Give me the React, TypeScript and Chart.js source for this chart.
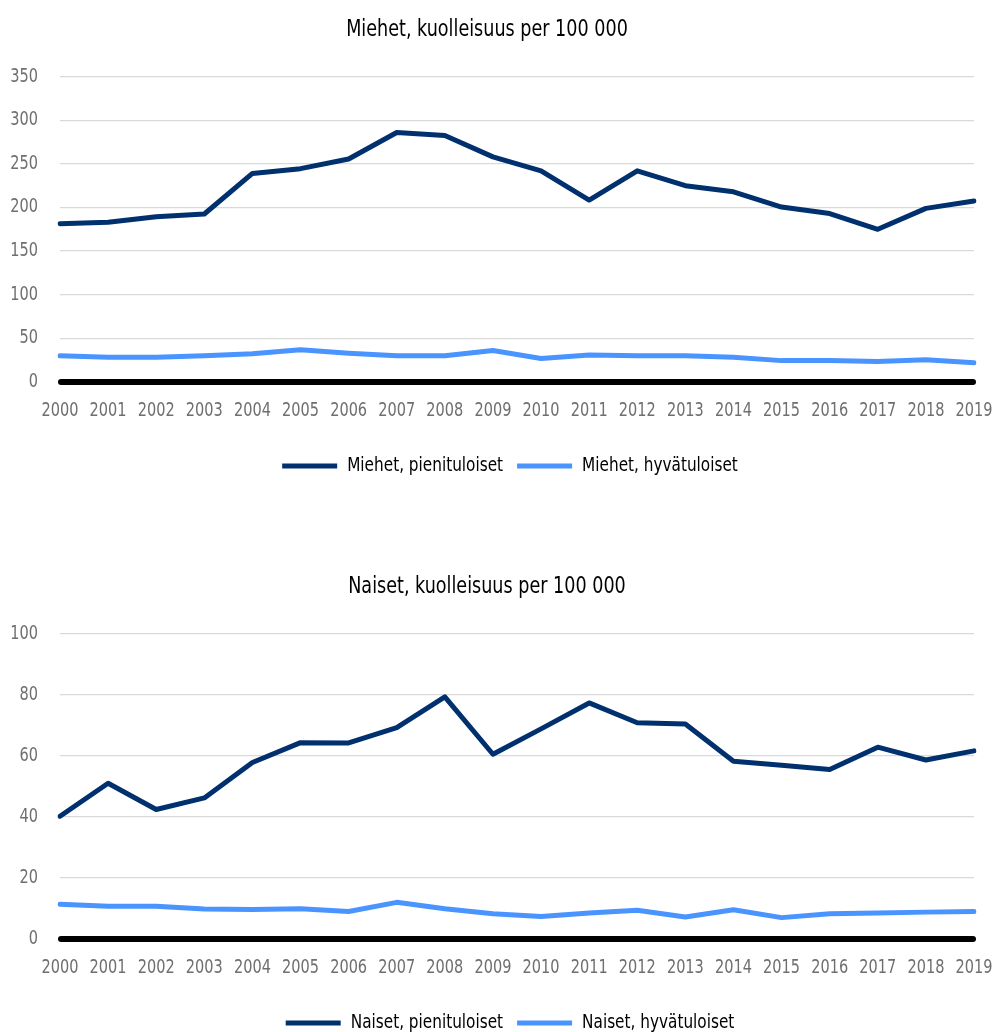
import { useEffect, useRef } from "react";
import { Chart, registerables } from "chart.js";

Chart.register(...registerables);

// Years on the horizontal axis
const years = [
  "2000", "2001", "2002", "2003", "2004", "2005", "2006", "2007", "2008", "2009",
  "2010", "2011", "2012", "2013", "2014", "2015", "2016", "2017", "2018", "2019",
];

// Men, deaths per 100 000
const menLowIncome = [181.5, 183, 189.5, 192.5, 239, 244.5, 255.5, 286, 282.5, 258, 242, 208.5, 242, 225, 218, 200.5, 193, 175, 199, 207.5];
const menHighIncome = [30, 28.5, 28.5, 30, 32.5, 37, 33, 30, 30, 36, 27, 31, 30, 30, 28.5, 24.5, 24.5, 23.5, 25.5, 22];

// Women, deaths per 100 000
const womenLowIncome = [40.2, 51, 42.4, 46.2, 57.8, 64.3, 64.2, 69.2, 79.3, 60.5, 68.8, 77.3, 70.8, 70.4, 58.2, 56.9, 55.5, 62.8, 58.6, 61.6];
const womenHighIncome = [11.4, 10.7, 10.7, 9.8, 9.7, 9.9, 9.0, 12.0, 9.9, 8.3, 7.4, 8.5, 9.4, 7.2, 9.6, 7.0, 8.3, 8.5, 8.8, 9.0];

const FONT = "'DejaVu Sans Condensed', 'DejaVu Sans', sans-serif";
const DARK = "#00306e";
const LIGHT = "#4a94ff";
const TEXT_SQUEEZE = 0.85;

// Draw all canvas text horizontally condensed (and measure it the same way,
// so Chart.js lays out labels and legend with the narrower widths).
function condenseText(ctx: CanvasRenderingContext2D, k: number) {
  const anyCtx = ctx as any;
  if (anyCtx.__condensed) return;
  anyCtx.__condensed = true;
  const fill = ctx.fillText.bind(ctx);
  const measure = ctx.measureText.bind(ctx);
  ctx.fillText = (text: string, x: number, y: number, maxWidth?: number) => {
    ctx.save();
    ctx.translate(x, y);
    ctx.scale(k, 1);
    if (maxWidth !== undefined && maxWidth !== null) fill(text, 0, 0, maxWidth / k);
    else fill(text, 0, 0);
    ctx.restore();
  };
  ctx.measureText = (text: string) => {
    const m = measure(text);
    return {
      width: m.width * k,
      actualBoundingBoxLeft: m.actualBoundingBoxLeft * k,
      actualBoundingBoxRight: m.actualBoundingBoxRight * k,
      actualBoundingBoxAscent: m.actualBoundingBoxAscent,
      actualBoundingBoxDescent: m.actualBoundingBoxDescent,
      fontBoundingBoxAscent: m.fontBoundingBoxAscent,
      fontBoundingBoxDescent: m.fontBoundingBoxDescent,
    } as TextMetrics;
  };
}

// Thick black baseline at zero, with rounded ends
const zeroLinePlugin = {
  id: "zeroLine",
  beforeDatasetsDraw(chart: any) {
    const { ctx, chartArea, scales } = chart;
    const y = scales.y.getPixelForValue(0);
    ctx.save();
    ctx.strokeStyle = "#000";
    ctx.lineWidth = 6;
    ctx.lineCap = "round";
    ctx.beginPath();
    ctx.moveTo(chartArea.left + 1, y);
    ctx.lineTo(chartArea.right - 1, y);
    ctx.stroke();
    ctx.restore();
  },
};

// Nudge the legend row slightly left of the plot centre
const legendShiftPlugin = {
  id: "legendShift",
  afterLayout(chart: any) {
    const legend = chart.legend;
    if (legend) {
      legend.left -= 7;
      legend.right -= 7;
    }
  },
};

type Props = {
  title: string;
  lowLabel: string;
  low: number[];
  highLabel: string;
  high: number[];
  max: number;
  step: number;
};

function MortalityChart({ title, lowLabel, low, highLabel, high, max, step }: Props) {
  const ref = useRef<HTMLCanvasElement>(null);

  useEffect(() => {
    if (!ref.current) return;
    const ctx = ref.current.getContext("2d");
    if (!ctx) return;
    condenseText(ctx, TEXT_SQUEEZE);
    const line = {
      borderWidth: 5,
      pointRadius: 0,
      pointHoverRadius: 0,
      tension: 0,
      borderCapStyle: "round" as const,
      borderJoinStyle: "round" as const,
    };
    const chart = new Chart(ctx, {
      type: "line",
      data: {
        labels: years,
        datasets: [
          { label: lowLabel, data: low, borderColor: DARK, backgroundColor: DARK, ...line },
          { label: highLabel, data: high, borderColor: LIGHT, backgroundColor: LIGHT, ...line },
        ],
      },
      options: {
        responsive: false,
        animation: false,
        devicePixelRatio: 1,
        layout: { padding: { left: 0, right: 20, top: 0, bottom: 71 } },
        plugins: {
          title: {
            display: true,
            text: title,
            color: "#000",
            font: { family: FONT, size: 23, weight: "normal" },
            padding: { top: 16, bottom: 33 },
          },
          legend: {
            position: "bottom",
            fullSize: false,
            labels: {
              usePointStyle: true,
              pointStyle: "line",
              pointStyleWidth: 55,
              color: "#000",
              font: { family: FONT, size: 20 },
              padding: 14,
            },
          },
          tooltip: { enabled: false },
        },
        scales: {
          x: {
            grid: { display: false, drawTicks: false },
            border: { display: false },
            ticks: {
              color: "#6f6f6f",
              font: { family: FONT, size: 19 },
              padding: 18,
              maxRotation: 0,
              autoSkip: false,
            },
            afterFit: (s: any) => {
              s.height = 60;
              // the end labels may overhang the plot edges
              s.paddingLeft = 10;
              s.paddingRight = 10;
            },
          },
          y: {
            min: 0,
            max,
            grid: {
              color: (c: any) => (c.tick && c.tick.value === 0 ? "rgba(0,0,0,0)" : "#d9d9d9"),
              lineWidth: 1.3,
              drawTicks: false,
            },
            border: { display: false },
            ticks: {
              stepSize: step,
              color: "#6f6f6f",
              font: { family: FONT, size: 19 },
              padding: 22,
            },
            afterFit: (s: any) => {
              s.width = 60;
            },
          },
        },
      },
      plugins: [zeroLinePlugin, legendShiftPlugin],
    });
    return () => chart.destroy();
  }, [title, lowLabel, low, highLabel, high, max, step]);

  return <canvas ref={ref} width={994} height={557} style={{ display: "block" }} />;
}

export default function App() {
  return (
    <div
      style={{
        position: "absolute",
        top: 0,
        left: 0,
        width: 994,
        height: 1032,
        overflow: "hidden",
        background: "#fff",
      }}
    >
      <MortalityChart
        title="Miehet, kuolleisuus per 100 000"
        lowLabel="Miehet, pienituloiset"
        low={menLowIncome}
        highLabel="Miehet, hyvätuloiset"
        high={menHighIncome}
        max={350}
        step={50}
      />
      <MortalityChart
        title="Naiset, kuolleisuus per 100 000"
        lowLabel="Naiset, pienituloiset"
        low={womenLowIncome}
        highLabel="Naiset, hyvätuloiset"
        high={womenHighIncome}
        max={100}
        step={20}
      />
    </div>
  );
}
